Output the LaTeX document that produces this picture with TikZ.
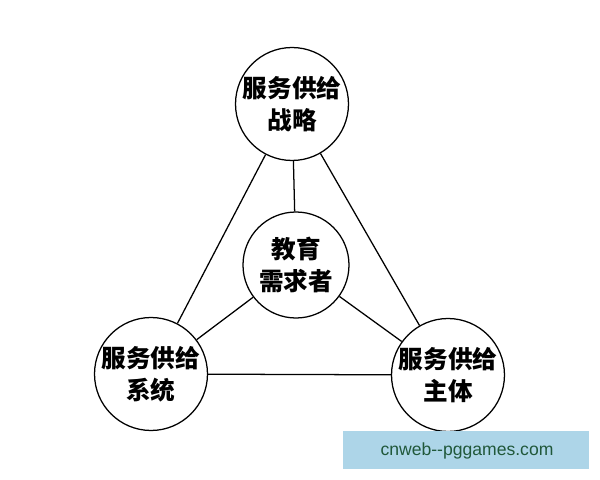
\documentclass[tikz,border=0pt]{standalone}
\usepackage{fontspec}
\setmainfont{Liberation Sans}
\newfontfamily\cjk{Noto Sans CJK SC}
\usepackage{xcolor}
\usetikzlibrary{positioning}

\definecolor{markblue}{RGB}{173,213,232}
\definecolor{markgreen}{RGB}{32,88,58}

\tikzset{
	role/.style={circle,draw,line width=0.9pt,minimum size=2.65cm,inner sep=0pt,
		align=center,font=\cjk\bfseries\fontsize{17.5}{23}\selectfont},
	link/.style={line width=0.9pt}
}

\begin{document}
\begin{tikzpicture}
		
		\useasboundingbox (0,0) rectangle (15,12);
		
		\node[role] (strat) at (7.3,9.4) {服务供给\\战略};
		\node[role] (need) at (7.4,5.375) {教育\\需求者};
		\node[role] (sys) at (3.775,2.65) {服务供给\\系统};
		\node[role] (body) at (11.2,2.625) {服务供给\\主体};
		
		\foreach \a/\b in {strat/sys,strat/body,strat/need,need/sys,need/body,sys/body}
		{
			\draw[link] (\a) -- (\b);
		}
		
		% watermark
		\fill[markblue]
		(8.575,0.275) rectangle (14.725,1.225);
		
		\node[text=markgreen,font=\fontsize{12.5}{15}\selectfont] (mark)
		at (11.675,0.725) {cnweb-{}-pggames.com};
		
	\end{tikzpicture}
\end{document}
